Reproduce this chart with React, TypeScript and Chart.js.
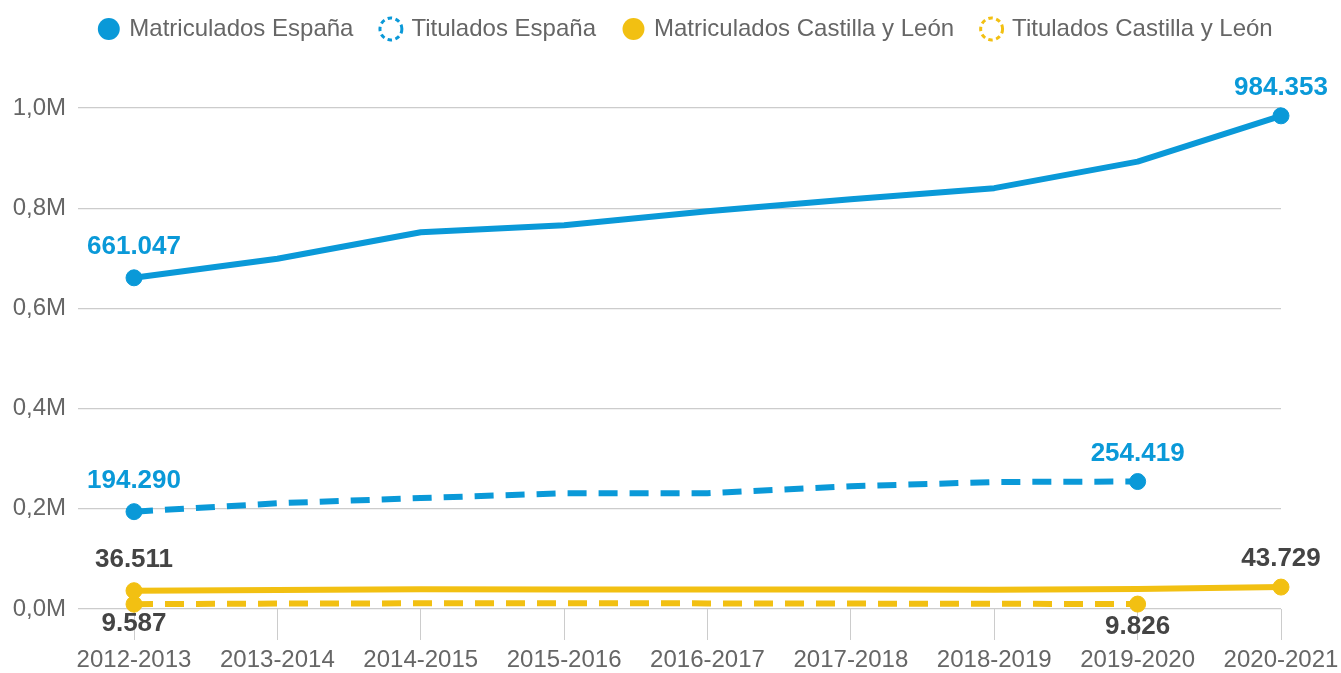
import React, { useEffect, useRef } from "react";
import { Chart, registerables } from "chart.js";

Chart.register(...registerables);

const categories = [
  "2012-2013", "2013-2014", "2014-2015", "2015-2016", "2016-2017",
  "2017-2018", "2018-2019", "2019-2020", "2020-2021",
];
const matriculadosEspana = [661047, 699000, 752000, 766000, 794000, 818000, 840000, 893000, 984353];
const tituladosEspana = [194290, 211000, 221500, 231000, 231000, 245000, 253500, 254419, null];
const matriculadosCyL = [36511, 38000, 39300, 39000, 38800, 38700, 38600, 40000, 43729];
const tituladosCyL = [9587, 10800, 11300, 11500, 11200, 10800, 10400, 9826, null];
const seriesNames = [
  "Matriculados España", "Titulados España",
  "Matriculados Castilla y León", "Titulados Castilla y León",
];
const yTicks = [0, 200000, 400000, 600000, 800000, 1000000];

const BLUE = "#0a99d8";
const YELLOW = "#f2c012";
const COLORS = [BLUE, BLUE, YELLOW, YELLOW];
const DASHED = [false, true, false, true];
const LABEL_COLORS = [BLUE, BLUE, "#444444", "#444444"];
const LABEL_BELOW = [false, false, false, true];

const fmt = (v: number) =>
  Math.round(v).toString().replace(/\B(?=(\d{3})+(?!\d))/g, ".");

const endIdx = (arr: (number | null)[]) => {
  const idx: number[] = [];
  for (let i = 0; i < arr.length; i++) if (arr[i] != null) { idx.push(i); break; }
  for (let i = arr.length - 1; i >= 0; i--) if (arr[i] != null) { idx.push(i); break; }
  return idx;
};

const endLabels = {
  id: "endLabels",
  afterDatasetsDraw(chart: any) {
    const ctx = chart.ctx;
    ctx.save();
    ctx.font = "bold 26px 'Liberation Sans', Arial, sans-serif";
    ctx.textAlign = "center";
    ctx.textBaseline = "middle";
    chart.data.datasets.forEach((ds: any, di: number) => {
      const meta = chart.getDatasetMeta(di);
      endIdx(ds.data).forEach((i, k) => {
        const pt = meta.data[i];
        if (!pt) return;
        const dy = LABEL_BELOW[di] ? (k === 0 ? 20 : 23) : (k === 0 ? -31 : -28);
        ctx.fillStyle = LABEL_COLORS[di];
        ctx.fillText(fmt(ds.data[i]), pt.x, pt.y + dy);
      });
    });
    ctx.restore();
  },
};

const legendShift = {
  id: "legendShift",
  beforeInit(chart: any) {
    const legend = chart.legend;
    if (!legend) return;
    const origFit = legend.fit;
    legend.fit = function () {
      origFit.call(this);
      this.height = 108;
    };
  },
  afterLayout(chart: any) {
    const l = chart.legend;
    if (!l) return;
    l.top -= 12;
    l.bottom -= 12;
    l.left += 16;
    l.right += 16;
  },
};

export default function App() {
  const ref = useRef<HTMLCanvasElement | null>(null);
  useEffect(() => {
    document.body.style.margin = "0";
    const series = [matriculadosEspana, tituladosEspana, matriculadosCyL, tituladosCyL];
    const datasets = series.map((data, i) => {
      const ends = endIdx(data);
      return {
        label: seriesNames[i],
        data,
        borderColor: COLORS[i],
        backgroundColor: COLORS[i],
        borderWidth: 6,
        borderDash: DASHED[i] ? [19, 12] : [],
        borderCapStyle: "butt" as const,
        borderJoinStyle: "round" as const,
        tension: 0,
        spanGaps: false,
        clip: false as any,
        pointRadius: (c: any) => (ends.includes(c.dataIndex) ? 8 : 0),
        pointHoverRadius: (c: any) => (ends.includes(c.dataIndex) ? 8 : 0),
        pointBorderWidth: 1,
        pointBackgroundColor: COLORS[i],
        pointBorderColor: COLORS[i],
      };
    });
    const chart = new Chart(ref.current!, {
      type: "line",
      data: { labels: categories, datasets },
      options: {
        animation: false,
        responsive: true,
        maintainAspectRatio: false,
        layout: { padding: 0 },
        plugins: {
          tooltip: { enabled: false },
          legend: {
            position: "top",
            labels: {
              usePointStyle: true,
              boxWidth: 17,
              boxHeight: 15.5,
              padding: 29,
              color: "#666666",
              font: { size: 24, family: "'Liberation Sans', Arial, sans-serif" },
              generateLabels(c: any) {
                const items = (Chart.defaults.plugins.legend.labels as any).generateLabels(c);
                return items.map((it: any, i: number) => ({
                  ...it,
                  pointStyle: "circle",
                  fillStyle: DASHED[i] ? "rgba(0,0,0,0)" : COLORS[i],
                  strokeStyle: COLORS[i],
                  lineWidth: DASHED[i] ? 3 : 0,
                  lineDash: DASHED[i] ? [4.5, 3.5] : [],
                  fontColor: "#666666",
                }));
              },
            },
          },
        },
        scales: {
          x: {
            offset: false,
            afterFit(scale: any) {
              scale.height = 64;
              scale.paddingRight = 60;
            },
            grid: {
              drawOnChartArea: false,
              drawTicks: true,
              tickLength: 31,
              color: "#cccccc",
            },
            border: { display: false },
            ticks: {
              color: "#666666",
              padding: 6,
              maxRotation: 0,
              autoSkip: false,
              font: { size: 24, family: "'Liberation Sans', Arial, sans-serif" },
            },
          },
          y: {
            min: 0,
            max: 1000000,
            afterFit(scale: any) {
              scale.width = 134;
            },
            afterBuildTicks(scale: any) {
              scale.ticks = yTicks.map((v) => ({ value: v }));
            },
            grid: {
              color: "#cccccc",
              lineWidth: 1.3,
              drawTicks: true,
              tickLength: 56,
            },
            border: { display: false },
            ticks: {
              color: "#666666",
              padding: 12,
              font: { size: 24, family: "'Liberation Sans', Arial, sans-serif" },
              callback: (v: any) => (Number(v) / 1e6).toFixed(1).replace(".", ",") + "M",
            },
          },
        },
      },
      plugins: [endLabels, legendShift],
    });
    return () => chart.destroy();
  }, []);
  return (
    <div style={{ width: 1341, height: 673, position: "relative" }}>
      <canvas ref={ref} />
    </div>
  );
}
